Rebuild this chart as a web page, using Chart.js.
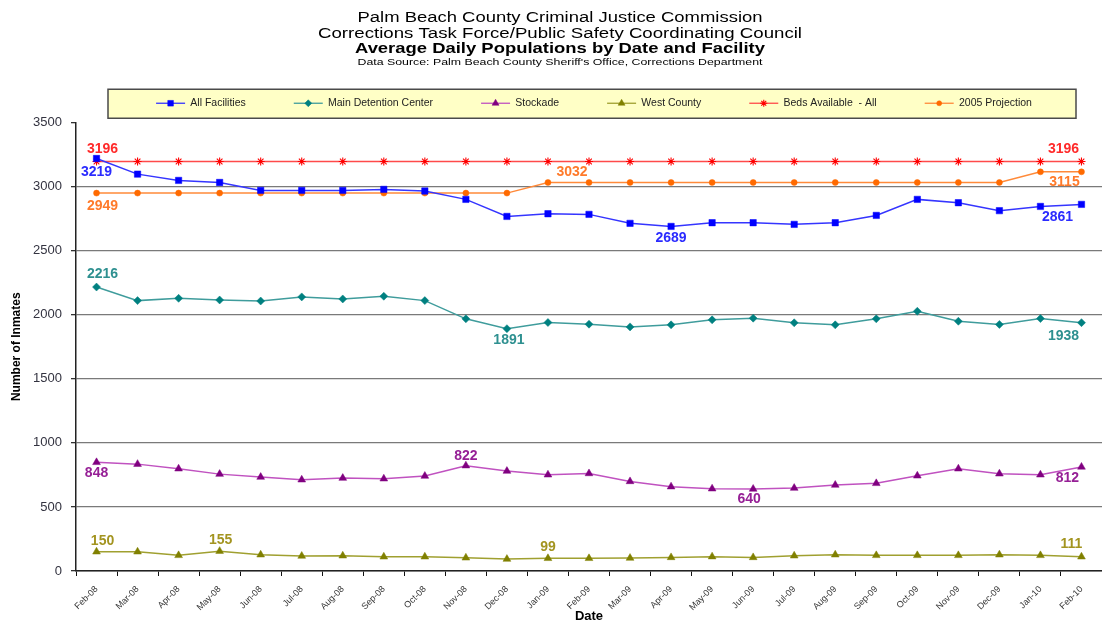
<!DOCTYPE html>
<html><head><meta charset="utf-8">
<script src="https://cdn.jsdelivr.net/npm/chart.js@4/dist/chart.umd.min.js"></script>
<style>html,body{margin:0;padding:0;background:#fff;overflow:hidden}#wrap{position:relative;width:1102px;height:625px}</style>
</head><body><div id="wrap"><canvas id="c" width="1102" height="625"></canvas></div>
<script>
// ---------- data ----------
const categories = ['Feb-08','Mar-08','Apr-08','May-08','Jun-08','Jul-08','Aug-08','Sep-08','Oct-08','Nov-08','Dec-08','Jan-09','Feb-09','Mar-09','Apr-09','May-09','Jun-09','Jul-09','Aug-09','Sep-09','Oct-09','Nov-09','Dec-09','Jan-10','Feb-10'];
const allFacilities = [3219,3097,3048,3032,2970,2970,2970,2978,2965,2900,2767,2788,2783,2713,2689,2718,2718,2705,2718,2775,2900,2874,2812,2845,2861];
const mainDetention = [2216,2110,2128,2115,2107,2139,2123,2144,2110,1968,1891,1939,1926,1905,1921,1960,1973,1937,1921,1968,2027,1949,1924,1970,1938];
const stockade = [848,834,798,756,733,712,725,720,741,822,780,751,761,699,658,642,640,647,671,684,743,798,759,751,812];
const westCounty = [150,150,122,155,127,117,119,111,111,103,93,99,99,101,106,112,106,119,127,122,122,122,127,122,111];
const bedsAvailable = [3196,3196,3196,3196,3196,3196,3196,3196,3196,3196,3196,3196,3196,3196,3196,3196,3196,3196,3196,3196,3196,3196,3196,3196,3196];
const projection2005 = [2949,2949,2949,2949,2949,2949,2949,2949,2949,2949,2949,3032,3032,3032,3032,3032,3032,3032,3032,3032,3032,3032,3032,3115,3115];
const yTickValues = [0,500,1000,1500,2000,2500,3000,3500];
const seriesNames = ['All Facilities','Main Detention Center','Stockade','West County','Beds Available  - All','2005 Projection'];
const titleTexts = ['Palm Beach County Criminal Justice Commission','Corrections Task Force/Public Safety Coordinating Council','Average Daily Populations by Date and Facility',"Data Source: Palm Beach County Sheriff's Office, Corrections Department"];

// ---------- styles ----------
const FF = '"Liberation Sans", Arial, sans-serif';
const lineColors  = ['#3535FF','#3F9C9C','#C052C0','#A0A030','#FF4A4A','#FF8A3A'];
const pointColors = ['#0000FF','#008080','#800080','#808000','#FF0000','#FF6A00'];
const labelColors = ['#2B2BFF','#2E9090','#962096','#A39420','#FF2A2A','#FF7A2A'];
const pointStyles = ['rect','rectRot','triangle','triangle','star','circle'];
const pointRadii  = [4.5,4,4.5,4.5,4,3];

// which points carry a value label, and where the label sits relative to the point
const valueLabels = [
  {s:4,i:0,dx:6,dy:-12},{s:4,i:24,dx:-18,dy:-12},
  {s:0,i:0,dx:0,dy:14},{s:0,i:14,dx:0,dy:12},{s:0,i:24,dx:-24,dy:13},
  {s:5,i:0,dx:6,dy:13},{s:5,i:11,dx:24,dy:-10},{s:5,i:24,dx:-17,dy:10},
  {s:1,i:0,dx:6,dy:-13},{s:1,i:10,dx:2,dy:11},{s:1,i:24,dx:-18,dy:13},
  {s:2,i:0,dx:0,dy:11},{s:2,i:9,dx:0,dy:-10},{s:2,i:16,dx:-4,dy:10},{s:2,i:24,dx:-14,dy:11},
  {s:3,i:0,dx:6,dy:-11},{s:3,i:3,dx:1,dy:-11},{s:3,i:11,dx:0,dy:-11},{s:3,i:24,dx:-10,dy:-13}
];

const seriesData = [allFacilities, mainDetention, stockade, westCounty, bedsAvailable, projection2005];

const datasets = seriesData.map((d, k) => ({
  label: seriesNames[k],
  data: d,
  borderColor: lineColors[k],
  backgroundColor: pointColors[k],
  borderWidth: 1.5,
  tension: 0,
  pointStyle: pointStyles[k],
  pointRadius: pointRadii[k],
  pointHoverRadius: pointRadii[k],
  pointBackgroundColor: pointColors[k],
  pointBorderColor: pointColors[k],
  pointBorderWidth: pointStyles[k] === 'star' ? 1.1 : 0.5,
  fill: false
}));

const headerPlugin = {
  id: 'header',
  beforeDraw(chart) {
    const ctx = chart.ctx;
    // legend frame
    const lg = chart.legend, ca = chart.chartArea;
    if (lg && lg.legendHitBoxes && lg.legendHitBoxes.length) {
      const cy = lg.legendHitBoxes[0].top + lg.legendHitBoxes[0].height / 2;
      ctx.save();
      ctx.fillStyle = '#FFFFC6';
      ctx.strokeStyle = '#4a4a4a';
      ctx.lineWidth = 1.5;
      const x0 = ca.left + 32, x1 = ca.right - 26, y0 = cy - 14, y1 = cy + 15;
      ctx.fillRect(x0, y0, x1 - x0, y1 - y0);
      ctx.strokeRect(x0, y0, x1 - x0, y1 - y0);
      ctx.restore();
    }
    // titles
    const specs = [
      {font: '15.5px ' + FF, y: 21.5, w: 405},
      {font: '15.5px ' + FF, y: 37.5, w: 484},
      {font: 'bold 14px ' + FF, y: 53, w: 410},
      {font: '9.5px ' + FF, y: 64.5, w: 405}
    ];
    ctx.save();
    ctx.fillStyle = '#000';
    ctx.textAlign = 'center';
    ctx.textBaseline = 'alphabetic';
    titleTexts.forEach((t, k) => {
      ctx.font = specs[k].font;
      const mw = ctx.measureText(t).width;
      const sx = specs[k].w / mw;
      ctx.save();
      ctx.translate(560, specs[k].y);
      ctx.scale(sx, 1);
      ctx.fillText(t, 0, 0);
      ctx.restore();
    });
    ctx.restore();
  },
  afterLayout(chart) {
    const lg = chart.legend;
    if (lg) { lg.top -= 4; lg.bottom -= 4; lg.left += 5; lg.right += 5; }
  },
  afterDatasetsDraw(chart) {
    const ctx = chart.ctx;
    ctx.save();
    ctx.font = 'bold 14px ' + FF;
    ctx.textAlign = 'center';
    ctx.textBaseline = 'middle';
    valueLabels.forEach(v => {
      const pt = chart.getDatasetMeta(v.s).data[v.i];
      if (!pt) return;
      ctx.fillStyle = labelColors[v.s];
      ctx.fillText(String(chart.data.datasets[v.s].data[v.i]), pt.x + v.dx, pt.y + v.dy);
    });
    ctx.restore();
  },
  afterDraw(chart) {
    const lg = chart.legend;
    if (!lg || !lg.legendHitBoxes) return;
    const ctx = chart.ctx;
    const bw = lg.options.labels.boxWidth;
    lg.legendHitBoxes.forEach((hb, k) => {
      const y = hb.top + hb.height / 2;
      const x = hb.left;
      ctx.save();
      ctx.strokeStyle = lineColors[k];
      ctx.lineWidth = 1.3;
      ctx.beginPath(); ctx.moveTo(x, y); ctx.lineTo(x + bw, y); ctx.stroke();
      ctx.fillStyle = pointColors[k];
      ctx.strokeStyle = pointColors[k];
      ctx.lineWidth = pointStyles[k] === 'star' ? 1.1 : 0.5;
      Chart.helpers.drawPoint(ctx, {pointStyle: pointStyles[k], radius: pointRadii[k] - 0.5, rotation: 0, borderWidth: ctx.lineWidth}, x + bw / 2, y);
      ctx.restore();
    });
  }
};

new Chart(document.getElementById('c'), {
  type: 'line',
  data: {labels: categories, datasets: datasets},
  plugins: [headerPlugin],
  options: {
    responsive: false,
    animation: false,
    events: [],
    layout: {autoPadding: false, padding: {top: 54, left: 0, right: 0, bottom: 0}},
    plugins: {
      title: {display: false},
      tooltip: {enabled: false},
      legend: {
        display: true,
        position: 'top',
        fullSize: false,
        labels: {
          boxWidth: 29, boxHeight: 10, padding: 48,
          font: {size: 10.5, family: FF}, color: '#222',
          generateLabels(chart) {
            return chart.data.datasets.map((ds, i) => ({
              text: ds.label, fillStyle: 'rgba(0,0,0,0)', strokeStyle: 'rgba(0,0,0,0)',
              lineWidth: 0, hidden: false, datasetIndex: i, fontColor: '#222'
            }));
          }
        }
      }
    },
    scales: {
      x: {
        type: 'category',
        offset: true,
        grid: {offset: true, drawOnChartArea: false, drawTicks: true, tickLength: 5, tickColor: '#111', lineWidth: 1},
        border: {display: true, color: '#222', width: 1.5},
        ticks: {autoSkip: false, maxRotation: 45, minRotation: 45, font: {size: 9, family: FF}, color: '#333', padding: 8},
        title: {display: true, text: 'Date', font: {size: 13, weight: 'bold', family: FF}, color: '#000', padding: {top: 0, bottom: 1}},
        afterFit(s) { s.height = 54; s.paddingLeft = 0; s.paddingRight = 0; }
      },
      y: {
        min: 0, max: 3500,
        afterBuildTicks(s) { s.ticks = yTickValues.map(v => ({value: v})); },
        ticks: {font: {size: 13, family: FF}, color: '#333340', padding: 9, callback: v => String(v)},
        grid: {
          color: c => (c.tick && c.tick.value === 3500) ? 'rgba(0,0,0,0)' : '#7a7a7a',
          lineWidth: 1.3, tickLength: 5, tickColor: '#333', drawTicks: true
        },
        border: {display: true, color: '#222', width: 1.5},
        title: {display: true, text: 'Number of Inmates', font: {size: 12, weight: 'bold', family: FF}, color: '#000', padding: {top: 9, bottom: 0}},
        afterFit(s) { s.width = 76; }
      }
    }
  }
});
</script>
</body></html>
